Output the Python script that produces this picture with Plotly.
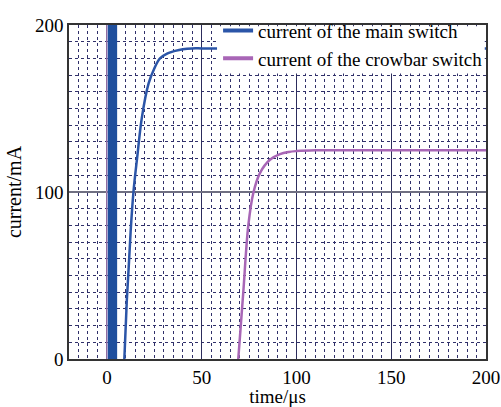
import plotly.graph_objects as go

# Time axis in microseconds, currents in mA
main_t = [9.2, 10.5, 11.5, 12.5, 14, 16, 18.5, 22, 25, 28, 32, 36, 40, 45, 50, 60, 80, 120, 160, 200]
main_i = [0, 35, 55, 76, 100, 121, 145, 165, 174, 180, 183, 184.5, 185.5, 186, 186, 186, 186, 186, 186, 186]

crowbar_t = [69.3, 70.5, 72, 74.6, 77.3, 80.8, 86, 91.3, 96, 100, 110, 130, 160, 200]
crowbar_i = [0, 18, 40.7, 80, 99.7, 111.5, 119.3, 122.7, 124, 124.5, 125, 125, 125, 125]

# Switching transient at turn-on (saturates the current axis)
pulse_t = [0.4, 5.4]
pulse_peak = 215

# Crowbar switch spike at t = 0
spike_t = [0.0, 0.0]
spike_i = [0, 215]

x_ticks = [0, 50, 100, 150, 200]
y_ticks = [0, 100, 200]

BLUE = "#2b55a8"
PULSE = "#1f4f9d"
PURPLE = "#a866b6"
GRID_MAJOR = "#2c2c5c"
GRID_MINOR = "#30306a"
FONT = "Liberation Serif"

fig = go.Figure()

fig.add_trace(go.Scatter(
    x=spike_t, y=spike_i, mode="lines",
    line=dict(color="#d59ad0", width=1), showlegend=False, hoverinfo="skip"))

fig.add_trace(go.Scatter(
    x=[pulse_t[0], pulse_t[1], pulse_t[1], pulse_t[0], pulse_t[0]],
    y=[0, 0, pulse_peak, pulse_peak, 0],
    mode="lines", fill="toself", fillcolor=PULSE,
    line=dict(color=PULSE, width=0), showlegend=False, hoverinfo="skip"))

fig.add_trace(go.Scatter(
    x=crowbar_t, y=crowbar_i, mode="lines", line_shape="spline",
    line=dict(color=PURPLE, width=2.5), showlegend=False))

fig.add_trace(go.Scatter(
    x=main_t, y=main_i, mode="lines", line_shape="spline",
    line=dict(color=BLUE, width=2.5), showlegend=False))

# Legend entries with heavier sample lines
fig.add_trace(go.Scatter(
    x=[None], y=[None], mode="lines", name="current of the main switch",
    line=dict(color=BLUE, width=4)))
fig.add_trace(go.Scatter(
    x=[None], y=[None], mode="lines", name="current of the crowbar switch",
    line=dict(color=PURPLE, width=4)))

axis_common = dict(
    showline=True, mirror=True, linecolor="#333333", linewidth=1.5,
    zeroline=False, ticks="", showgrid=True, automargin=False,
    tickfont=dict(family=FONT, size=19, color="black"),
)

fig.update_xaxes(
    **axis_common,
    range=[-20, 200], tickvals=x_ticks,
    gridcolor=GRID_MAJOR, gridwidth=1,
    minor=dict(dtick=5, tick0=0, showgrid=True, gridcolor=GRID_MINOR,
               griddash="dot", gridwidth=1),
    title=dict(text="time/μs", font=dict(family=FONT, size=19, color="black"),
               standoff=8),
)
fig.update_yaxes(
    **axis_common,
    range=[0, 200], tickvals=y_ticks,
    gridcolor="#6e6e80", gridwidth=2,
    minor=dict(dtick=10, tick0=0, showgrid=True, gridcolor=GRID_MINOR,
               griddash="dot", gridwidth=1),
    title=dict(text="current/mA", font=dict(family=FONT, size=20, color="black"),
               standoff=8),
)

# White panel behind the legend, inside the frame
fig.add_shape(
    type="rect", xref="paper", yref="paper",
    x0=0.355, x1=0.997, y0=0.855, y1=0.996,
    fillcolor="white", line=dict(width=0), layer="above")

fig.update_layout(
    width=501, height=407,
    margin=dict(l=69, r=15, t=20, b=48),
    paper_bgcolor="white", plot_bgcolor="white",
    font=dict(family=FONT, color="black"),
    legend=dict(
        x=1.005, y=1.04, xanchor="right", yanchor="top",
        bgcolor="rgba(0,0,0,0)", borderwidth=0,
        font=dict(family=FONT, size=19, color="black"),
        tracegroupgap=0,
    ),
)

fig.write_html("out.html")
